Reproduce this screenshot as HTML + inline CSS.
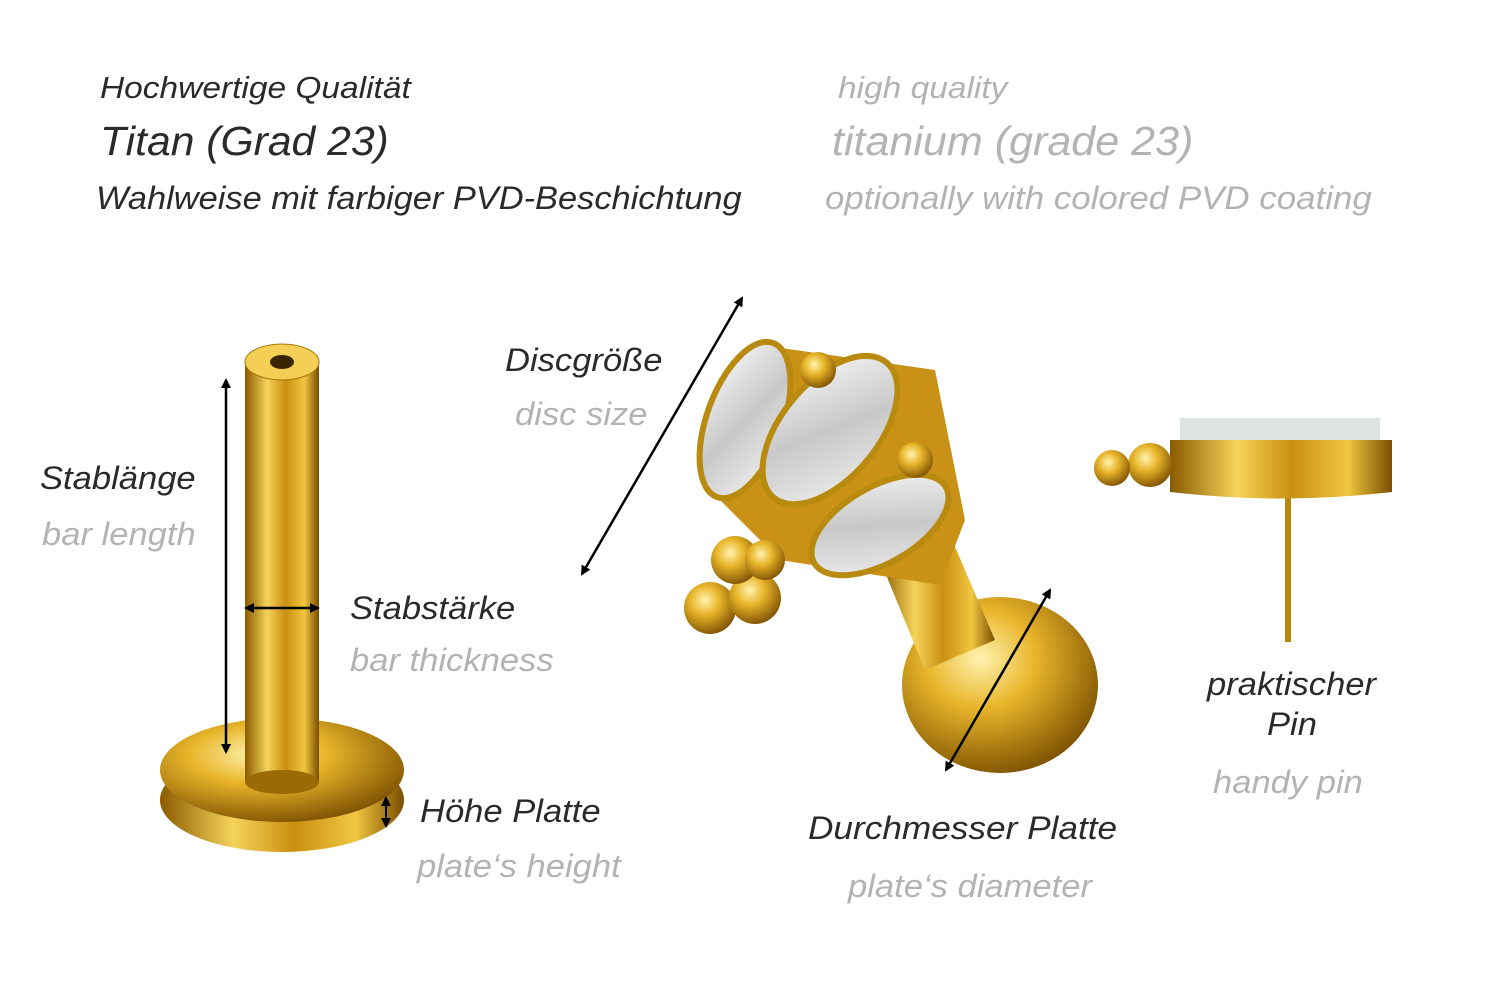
<!DOCTYPE html>
<html><head><meta charset="utf-8"><style>
body{margin:0;width:1500px;height:1001px;background:#fff;position:relative;overflow:hidden;font-family:"Liberation Sans",sans-serif;font-style:italic}
.t{position:absolute;white-space:nowrap;line-height:1;transform-origin:0 0;transform:scaleX(1.08)}
.d{color:#2a2a2a}.g{color:#b3b3b3}
svg{position:absolute;left:0;top:0}
</style></head><body>
<svg width="1500" height="1001" viewBox="0 0 1500 1001">
<defs>
<linearGradient id="gv" x1="0" x2="1" y1="0" y2="0">
<stop offset="0" stop-color="#8a5a00"/><stop offset="0.3" stop-color="#f5d35a"/><stop offset="0.55" stop-color="#c98f10"/><stop offset="0.8" stop-color="#f0c640"/><stop offset="1" stop-color="#7a4e00"/></linearGradient>
<radialGradient id="gr" cx="0.4" cy="0.35" r="0.7"><stop offset="0" stop-color="#fff3b0"/><stop offset="0.4" stop-color="#e8b52a"/><stop offset="1" stop-color="#7a4e00"/></radialGradient>
<linearGradient id="cr" x1="0" x2="1" y1="0" y2="1"><stop offset="0" stop-color="#fafafa"/><stop offset="0.5" stop-color="#c8c8c8"/><stop offset="1" stop-color="#f2f2f2"/></linearGradient>
<marker id="ah" markerWidth="10" markerHeight="10" refX="8" refY="5" orient="auto-start-reverse" markerUnits="userSpaceOnUse"><path d="M0,0 L10,5 L0,10 z" fill="#000"/></marker>
</defs>
<!-- left labret -->
<ellipse cx="282" cy="800" rx="122" ry="52" fill="url(#gv)"/>
<ellipse cx="282" cy="770" rx="122" ry="52" fill="url(#gr)"/>
<rect x="245" y="362" width="74" height="420" fill="url(#gv)"/>
<ellipse cx="282" cy="782" rx="37" ry="12" fill="#9a6a05"/>
<ellipse cx="282" cy="362" rx="37" ry="18" fill="#f3cf55" stroke="#a87408"/>
<ellipse cx="282" cy="362" rx="12" ry="7" fill="#3a2500"/>
<line x1="226" y1="380" x2="226" y2="752" stroke="#000" stroke-width="2.5" marker-start="url(#ah)" marker-end="url(#ah)"/>
<line x1="246" y1="608" x2="318" y2="608" stroke="#000" stroke-width="2.5" marker-start="url(#ah)" marker-end="url(#ah)"/>
<line x1="386" y1="798" x2="386" y2="826" stroke="#000" stroke-width="2" marker-start="url(#ah)" marker-end="url(#ah)"/>
<!-- middle piece -->
<ellipse cx="1000" cy="685" rx="98" ry="88" fill="url(#gr)"/>
<polygon points="880,560 950,535 995,640 925,670" fill="url(#gv)"/>
<path d="M700,480 L760,345 L935,370 L965,520 L940,585 L780,560 Z" fill="#c99116"/>
<ellipse cx="745" cy="420" rx="38" ry="82" transform="rotate(20 745 420)" fill="url(#cr)" stroke="#b88a10" stroke-width="6"/>
<ellipse cx="830" cy="430" rx="48" ry="88" transform="rotate(40 830 430)" fill="url(#cr)" stroke="#b88a10" stroke-width="6"/>
<ellipse cx="880" cy="525" rx="38" ry="76" transform="rotate(60 880 525)" fill="url(#cr)" stroke="#b88a10" stroke-width="6"/>
<circle cx="710" cy="608" r="26" fill="url(#gr)"/><circle cx="755" cy="598" r="26" fill="url(#gr)"/><circle cx="735" cy="560" r="24" fill="url(#gr)"/><circle cx="765" cy="560" r="20" fill="url(#gr)"/>
<circle cx="915" cy="460" r="18" fill="url(#gr)"/><circle cx="818" cy="370" r="18" fill="url(#gr)"/>
<line x1="742" y1="298" x2="582" y2="574" stroke="#000" stroke-width="2.5" marker-start="url(#ah)" marker-end="url(#ah)"/>
<line x1="1050" y1="590" x2="946" y2="770" stroke="#000" stroke-width="2.5" marker-start="url(#ah)" marker-end="url(#ah)"/>
<!-- right piece -->
<rect x="1285" y="490" width="6" height="152" fill="#b8860b"/>
<path d="M1170,440 L1392,440 L1392,492 Q1280,505 1170,492 Z" fill="url(#gv)"/>
<path d="M1180,418 L1380,418 L1380,440 L1180,440 Z" fill="#dfe2e2"/>
<circle cx="1150" cy="465" r="22" fill="url(#gr)"/><circle cx="1112" cy="468" r="18" fill="url(#gr)"/>
</svg>
<div class="t d" style="left:100px;top:72px;font-size:31px">Hochwertige Qualität</div>
<div class="t d" style="left:100px;top:121px;font-size:41px;transform:scaleX(1.04)">Titan (Grad 23)</div>
<div class="t d" style="left:96px;top:182px;font-size:32px;transform:scaleX(1.075)">Wahlweise mit farbiger PVD-Beschichtung</div>
<div class="t g" style="left:838px;top:72px;font-size:31px">high quality</div>
<div class="t g" style="left:832px;top:121px;font-size:41px;transform:scaleX(1.05)">titanium (grade 23)</div>
<div class="t g" style="left:825px;top:182px;font-size:32px;transform:scaleX(1.09)">optionally with colored PVD coating</div>
<div class="t d" style="left:40px;top:462px;font-size:32px">Stablänge</div>
<div class="t g" style="left:42px;top:518px;font-size:32px">bar length</div>
<div class="t d" style="left:350px;top:592px;font-size:32px">Stabstärke</div>
<div class="t g" style="left:350px;top:644px;font-size:32px">bar thickness</div>
<div class="t d" style="left:420px;top:795px;font-size:32px">Höhe Platte</div>
<div class="t g" style="left:417px;top:850px;font-size:32px">plate‘s height</div>
<div class="t d" style="left:505px;top:344px;font-size:32px">Discgröße</div>
<div class="t g" style="left:515px;top:398px;font-size:32px">disc size</div>
<div class="t d" style="left:808px;top:812px;font-size:32px;transform:scaleX(1.1)">Durchmesser Platte</div>
<div class="t g" style="left:848px;top:870px;font-size:32px">plate‘s diameter</div>
<div class="t d" style="left:1207px;top:668px;font-size:32px">praktischer</div>
<div class="t d" style="left:1267px;top:708px;font-size:32px">Pin</div>
<div class="t g" style="left:1213px;top:766px;font-size:32px">handy pin</div>
</body></html>
